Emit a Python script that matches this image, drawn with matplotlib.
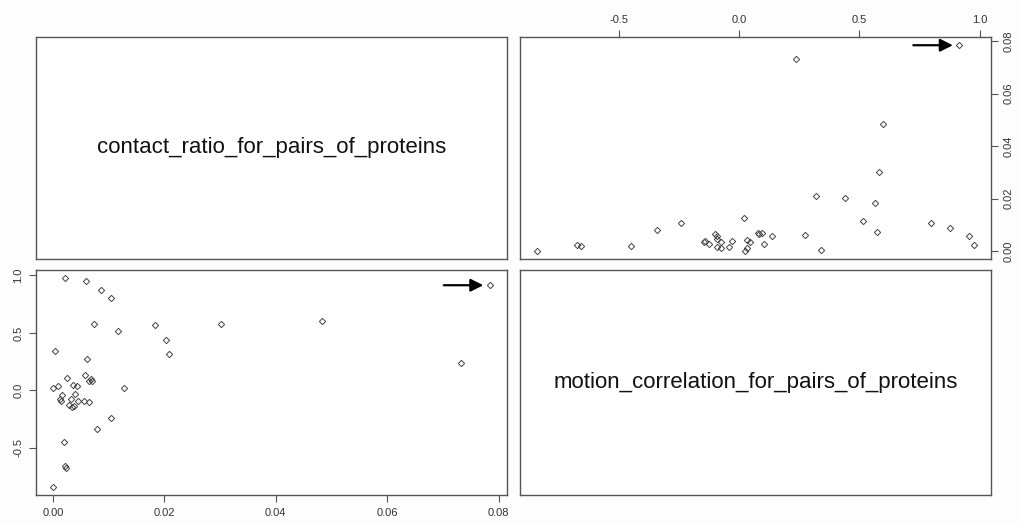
import matplotlib.pyplot as plt
import numpy as np

plt.rcParams['font.family'] = ['Liberation Sans', 'DejaVu Sans']

# values (one entry per protein pair)
contact_ratio = [0.0022, 0.0059, 0.0086, 0.0105, 0.0073, 0.0116, 0.0184, 0.0301,
                 0.0203, 0.0209, 0.0004, 0.0061, 0.0058, 0.0065, 0.0068, 0.0070,
                 0.0026, 0.0036, 0.0043, 0.0001, 0.0010, 0.0127, 0.0040, 0.0017,
                 0.0012, 0.0015, 0.0033, 0.0045, 0.0056, 0.0064, 0.0028, 0.0034,
                 0.0038, 0.0105, 0.0080, 0.0019, 0.0021, 0.0023, 0.0001, 0.0483,
                 0.0733, 0.0784]
motion_corr = [0.975, 0.955, 0.875, 0.800, 0.575, 0.515, 0.565, 0.580,
               0.440, 0.320, 0.340, 0.273, 0.135, 0.085, 0.095, 0.080,
               0.105, 0.045, 0.035, 0.025, 0.035, 0.020, -0.030, -0.040,
               -0.075, -0.090, -0.075, -0.090, -0.090, -0.100, -0.125, -0.145,
               -0.140, -0.240, -0.340, -0.450, -0.655, -0.675, -0.838, 0.600,
               0.235, 0.915]
var_names = ["contact_ratio_for_pairs_of_proteins", "motion_correlation_for_pairs_of_proteins"]
contact_ticks = [0.00, 0.02, 0.04, 0.06, 0.08]
motion_ticks = [-0.5, 0.0, 0.5, 1.0]

c = np.array(contact_ratio)
m = np.array(motion_corr)


def rlim(v):
    # R style axis range: data range extended by 4% each side
    span = v.max() - v.min()
    return v.min() - 0.04 * span, v.max() + 0.04 * span


frame = '#555555'
fig = plt.figure(figsize=(10.18, 5.25), dpi=100, facecolor='#fdfdfd')
w, h = 0.4627, 0.4228
ax_tl = fig.add_axes([0.0354, 0.5067, w, h])
ax_tr = fig.add_axes([0.5108, 0.5067, w, h])
ax_bl = fig.add_axes([0.0354, 0.0571, w, 0.4286])
ax_br = fig.add_axes([0.5108, 0.0571, w, 0.4286])

for ax in (ax_tl, ax_tr, ax_bl, ax_br):
    ax.set_facecolor('white')
    for s in ax.spines.values():
        s.set_color(frame)
        s.set_linewidth(1.0)
    ax.tick_params(direction='out', length=5, width=0.8, color=frame, pad=4,
                   labelsize=8, labelcolor='#333333')
    ax.set_xticks([])
    ax.set_yticks([])

ax_tl.text(0.5, 0.5, var_names[0], ha='center', va='center', fontsize=16,
           color='#111111', transform=ax_tl.transAxes)
ax_br.text(0.5, 0.5, var_names[1], ha='center', va='center', fontsize=16,
           color='#111111', transform=ax_br.transAxes)

pt = dict(marker='D', ms=3.2, mfc='none', mec='#444444', mew=0.7, ls='none')

# top right: motion on x (top axis), contact on y (right axis)
ax_tr.plot(m, c, **pt)
ax_tr.set_xlim(rlim(m))
ax_tr.set_ylim(rlim(c))
ax_tr.set_xticks(motion_ticks)
ax_tr.set_xticklabels(['%.1f' % t for t in motion_ticks])
ax_tr.set_yticks(contact_ticks)
ax_tr.set_yticklabels(['%.2f' % t for t in contact_ticks], rotation=90, va='center')
ax_tr.xaxis.tick_top()
ax_tr.yaxis.tick_right()

# bottom left: contact on x, motion on y
ax_bl.plot(c, m, **pt)
ax_bl.set_xlim(rlim(c))
ax_bl.set_ylim(rlim(m))
ax_bl.set_xticks(contact_ticks)
ax_bl.set_xticklabels(['%.2f' % t for t in contact_ticks])
ax_bl.set_yticks(motion_ticks)
ax_bl.set_yticklabels(['%.1f' % t for t in motion_ticks], rotation=90, va='center')

# arrows pointing at the largest contact ratio
i = int(np.argmax(c))
arrow = dict(arrowstyle='-|>', color='black', lw=1.6, mutation_scale=19,
             shrinkA=0, shrinkB=4.5)
ax_bl.annotate('', xy=(c[i], m[i]), xytext=(-33, 0), textcoords='offset points',
               arrowprops=arrow)
ax_tr.annotate('', xy=(m[i], c[i]), xytext=(-33, 0), textcoords='offset points',
               arrowprops=arrow)

fig.savefig('out.png', dpi=100, facecolor=fig.get_facecolor())
